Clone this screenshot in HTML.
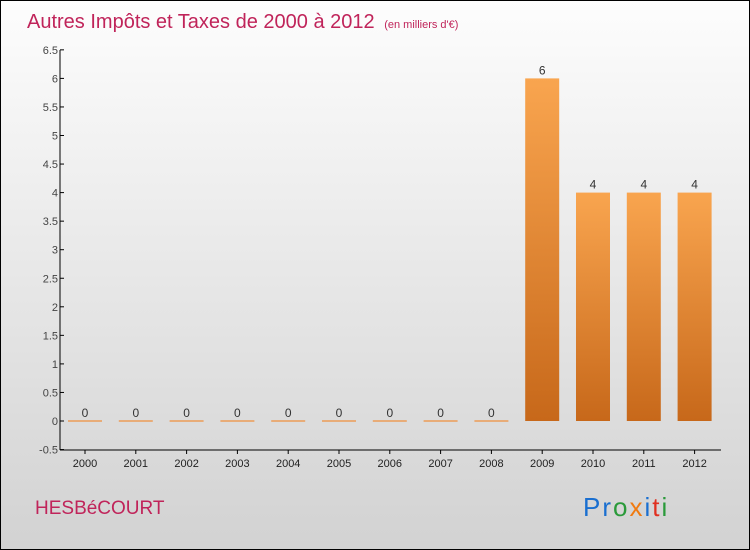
<!DOCTYPE html>
<html><head><meta charset="utf-8"><style>
body{margin:0}
#c{position:relative;width:748px;height:548px;border:1px solid #000;background:linear-gradient(#fdfdfd,#d2d2d2);font-family:"Liberation Sans",sans-serif;overflow:hidden}
</style></head><body>
<div id="c">
<svg width="748" height="548" id="s">
<defs><linearGradient id="bg" x1="0" y1="0" x2="0" y2="1"><stop offset="0" stop-color="#f9a54f"/><stop offset="1" stop-color="#c7681a"/></linearGradient></defs>
<text x="26" y="27" font-size="20" fill="#c0245a">Autres Impôts et Taxes de 2000 à 2012 <tspan font-size="11" dx="4">(en milliers d'€)</tspan></text>
<text x="34" y="513" font-size="19" fill="#c0245a">HESBéCOURT</text>
<text x="582" y="515" font-size="26" letter-spacing="2"><tspan fill="#1a6fd0">Pr</tspan><tspan fill="#2a9a3a">o</tspan><tspan fill="#f07a10">x</tspan><tspan fill="#1a6fd0">i</tspan><tspan fill="#e03020">t</tspan><tspan fill="#2a9a3a">i</tspan></text>
<g id="g"></g>
</svg></div>
<script>
const years=["2000","2001","2002","2003","2004","2005","2006","2007","2008","2009","2010","2011","2012"];
const values=[0,0,0,0,0,0,0,0,0,6,4,4,4];
const yTicks=[-0.5,0,0.5,1,1.5,2,2.5,3,3.5,4,4.5,5,5.5,6,6.5];
const ns="http://www.w3.org/2000/svg",g=document.getElementById('g');
const y=v=>420-(v)*57.1, x=i=>84+i*50.8;
function el(t,a){const e=document.createElementNS(ns,t);for(const k in a)e.setAttribute(k,a[k]);g.appendChild(e);return e;}
let ax=el('line',{x1:59,y1:49,x2:59,y2:449,stroke:'#000'});


let xa=el('line',{x1:59,y1:449,x2:720,y2:449,stroke:'#000'});


yTicks.forEach(t=>{
 let l=el('line',{x1:59,y1:y(t),x2:63,y2:y(t),stroke:'#000'});
 
 
 let tx=el('text',{x:57,y:y(t)+4,'font-size':11,fill:'#444','text-anchor':'end'});tx.textContent=t;
 
 
});
years.forEach((yr,i)=>{
 const v=values[i],cx=x(i);
 let tk=el('line',{x1:cx,y1:449,x2:cx,y2:453,stroke:'#000'});
 
 
 let lb=el('text',{x:cx,y:466,'font-size':11,fill:'#222','text-anchor':'middle'});lb.textContent=yr;
 
 
 let b;
 if(v>0){b=el('rect',{x:cx-17,y:y(v),width:34,height:y(0)-y(v),fill:'url(#bg)'});}
 else{b=el('rect',{x:cx-17,y:y(0)-1,width:34,height:2,fill:'#e8ac78'});}
 
 
 let vl=el('text',{x:cx,y:y(v)-4,'font-size':12,fill:'#333','text-anchor':'middle'});vl.textContent=v;
 
 
});
</script>
</body></html>
